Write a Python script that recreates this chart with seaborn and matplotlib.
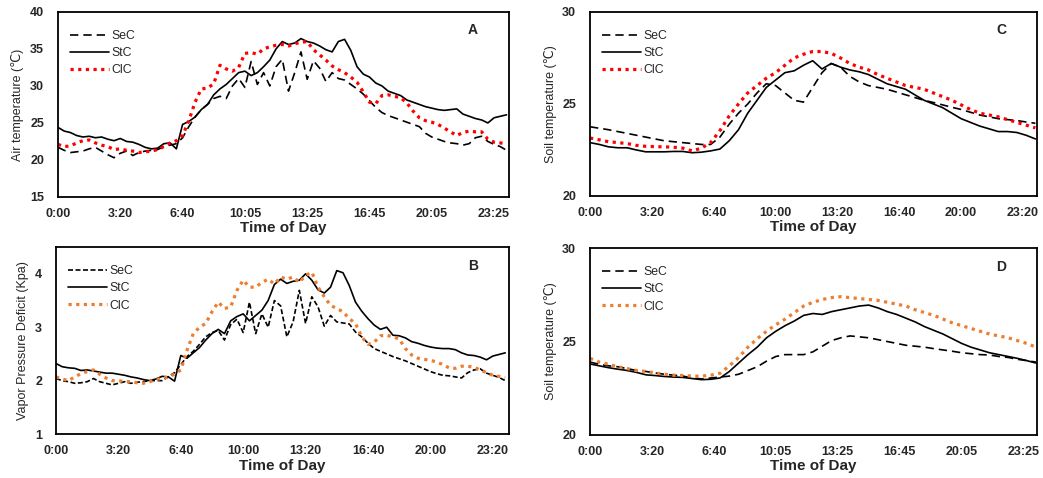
import matplotlib
matplotlib.use("Agg")
import matplotlib.pyplot as plt
import numpy as np
import pandas as pd
import seaborn as sns

# time grids (hours on the label scale)
T20 = np.arange(73) / 3.0          # 20-min steps, panels A and B
T30 = np.arange(49) / 2.0          # 30-min steps, panels C and D

TICK_POS = [0, 10 / 3, 20 / 3, 10, 40 / 3, 50 / 3, 20, 70 / 3]
TICKS_AD = ["0:00", "3:20", "6:40", "10:05", "13:25", "16:45", "20:05", "23:25"]
TICKS_BC = ["0:00", "3:20", "6:40", "10:00", "13:20", "16:40", "20:00", "23:20"]

# A: air temperature
air_sec = [21.7, 21.3, 21.0, 21.1, 21.2, 21.5, 21.7, 21.2, 20.7, 20.3, 20.9, 21.2, 20.6,
           21.0, 21.2, 21.3, 21.4, 21.8, 22.0, 22.2, 23.0, 24.5, 25.8, 26.8, 27.5, 28.3,
           28.6, 28.3, 30.0, 31.0, 29.8, 33.3, 30.2, 31.8, 30.0, 32.6, 33.6, 29.3, 31.8,
           34.6, 30.9, 33.4, 32.4, 30.6, 31.8, 31.0, 30.8, 30.2, 29.6, 28.9, 28.0, 27.1,
           26.4, 26.0, 25.7, 25.4, 25.1, 24.8, 24.5, 23.6, 23.1, 22.8, 22.5, 22.3, 22.2,
           22.0, 22.2, 23.0, 23.2, 22.5, 22.1, 21.8, 21.3]
air_stc = [24.4, 23.9, 23.7, 23.3, 23.1, 23.2, 23.0, 23.1, 22.8, 22.6, 22.9, 22.5, 22.4,
           22.1, 21.7, 21.5, 21.6, 22.2, 22.3, 21.5, 24.8, 25.2, 25.8, 26.8, 27.5, 28.8,
           29.6, 30.2, 31.0, 31.8, 32.0, 31.4, 31.8, 32.6, 33.5, 35.0, 36.0, 35.6, 35.8,
           36.4, 36.0, 35.8, 35.4, 34.9, 34.6, 36.0, 36.3, 34.8, 32.6, 31.6, 31.2, 30.4,
           30.0, 29.3, 29.0, 28.7, 28.1, 27.8, 27.5, 27.2, 27.0, 26.8, 26.7, 26.8, 26.9,
           26.2, 25.9, 25.6, 25.4, 25.0, 25.7, 25.9, 26.1]
air_clc = [22.1, 21.8, 21.9, 22.3, 22.6, 22.7, 22.3, 22.0, 21.8, 21.4, 21.5, 21.3, 21.2,
           21.0, 21.1, 21.2, 21.4, 21.8, 22.3, 22.6, 23.3, 25.3, 27.8, 29.6, 29.7, 30.3,
           32.8, 32.3, 32.0, 32.5, 34.4, 34.5, 34.3, 35.0, 35.3, 35.5, 35.6, 35.4, 35.7,
           35.9, 36.0, 34.9, 34.2, 33.5, 32.7, 32.2, 31.8, 31.2, 30.5, 29.2, 27.8, 27.6,
           28.7, 28.8, 28.6, 28.4, 27.7, 26.6, 25.7, 25.3, 25.1, 24.8, 24.3, 23.8, 23.3,
           23.7, 23.9, 23.8, 23.8, 22.8, 22.4, 22.3, 22.2]

# B: vapor pressure deficit
vpd_sec = [2.04, 2.0, 1.98, 1.95, 1.96, 1.98, 2.04, 1.98, 1.95, 1.92, 1.95, 1.98, 1.95,
           1.97, 1.98, 2.0, 2.0, 2.0, 2.07, 2.15, 2.3, 2.45, 2.55, 2.68, 2.82, 2.9, 2.94,
           2.76, 3.05, 3.15, 2.9, 3.47, 2.88, 3.25, 3.0, 3.5, 3.4, 2.82, 3.1, 3.69, 3.07,
           3.57, 3.38, 3.02, 3.22, 3.1, 3.08, 3.06, 2.91, 2.82, 2.7, 2.6, 2.55, 2.5, 2.45,
           2.41, 2.37, 2.32, 2.27, 2.22, 2.17, 2.13, 2.1, 2.09, 2.07, 2.05, 2.15, 2.2, 2.22,
           2.14, 2.1, 2.06, 2.0]
vpd_stc = [2.32, 2.26, 2.24, 2.23, 2.19, 2.2, 2.18, 2.16, 2.14, 2.14, 2.12, 2.1, 2.07,
           2.05, 2.02, 2.0, 2.03, 2.08, 2.07, 1.99, 2.47, 2.42, 2.52, 2.62, 2.76, 2.88,
           2.96, 2.88, 3.12, 3.2, 3.25, 3.12, 3.22, 3.32, 3.5, 3.8, 3.9, 3.82, 3.86, 3.88,
           4.0, 3.88, 3.7, 3.64, 3.75, 4.06, 4.02, 3.78, 3.47, 3.3, 3.16, 3.04, 2.96, 3.0,
           2.85, 2.84, 2.8, 2.73, 2.7, 2.66, 2.63, 2.61, 2.6, 2.6, 2.58, 2.52, 2.48, 2.47,
           2.44, 2.39, 2.46, 2.49, 2.52]
vpd_clc = [2.07, 2.03, 2.0, 2.07, 2.13, 2.17, 2.2, 2.12, 2.05, 2.0, 2.0, 1.98, 1.98,
           1.96, 1.95, 1.98, 2.02, 2.04, 2.07, 2.12, 2.2, 2.57, 2.88, 3.0, 3.07, 3.29,
           3.47, 3.35, 3.38, 3.69, 3.88, 3.75, 3.75, 3.84, 3.9, 3.81, 3.94, 3.9, 3.94,
           3.84, 3.97, 4.03, 3.75, 3.57, 3.41, 3.35, 3.29, 3.16, 3.07, 2.82, 2.68, 2.72,
           2.84, 2.85, 2.82, 2.78, 2.6, 2.48, 2.42, 2.4, 2.38, 2.35, 2.3, 2.24, 2.23, 2.27,
           2.27, 2.25, 2.2, 2.15, 2.1, 2.08, 2.06]

# C: soil temperature
soil_c_sec = [23.76, 23.68, 23.6, 23.5, 23.4, 23.3, 23.2, 23.1, 23.0, 22.95, 22.9, 22.85,
              22.8, 22.8, 23.2, 23.9, 24.5, 25.0, 25.6, 26.1, 26.0, 25.6, 25.2, 25.1, 25.9,
              26.7, 27.2, 27.0, 26.5, 26.2, 26.0, 25.9, 25.8, 25.65, 25.5, 25.35, 25.2,
              25.08, 24.95, 24.82, 24.7, 24.55, 24.4, 24.3, 24.2, 24.15, 24.1, 24.02, 23.95]
soil_c_stc = [22.9, 22.8, 22.67, 22.62, 22.62, 22.5, 22.4, 22.4, 22.4, 22.42, 22.42, 22.35,
              22.38, 22.45, 22.55, 23.0, 23.6, 24.5, 25.2, 25.9, 26.3, 26.7, 26.8, 27.1,
              27.35, 26.9, 27.2, 27.0, 26.85, 26.75, 26.6, 26.35, 26.1, 25.95, 25.8, 25.5,
              25.2, 25.0, 24.8, 24.5, 24.2, 24.0, 23.8, 23.65, 23.5, 23.5, 23.45, 23.3, 23.1]
soil_c_clc = [23.15, 23.05, 22.95, 22.9, 22.85, 22.75, 22.7, 22.68, 22.67, 22.65, 22.6,
              22.45, 22.6, 22.9, 23.55, 24.35, 25.0, 25.6, 26.0, 26.4, 26.7, 27.1, 27.5,
              27.7, 27.85, 27.85, 27.75, 27.5, 27.2, 27.0, 26.85, 26.6, 26.4, 26.2, 26.0,
              25.9, 25.8, 25.6, 25.4, 25.2, 24.95, 24.7, 24.5, 24.4, 24.3, 24.15, 24.0,
              23.85, 23.7]

# D: soil temperature
soil_d_sec = [23.9, 23.78, 23.7, 23.65, 23.55, 23.45, 23.4, 23.32, 23.25, 23.2, 23.15,
              23.05, 23.0, 23.05, 23.1, 23.15, 23.25, 23.45, 23.65, 23.95, 24.2, 24.3, 24.3,
              24.3, 24.45, 24.75, 25.05, 25.2, 25.3, 25.25, 25.2, 25.1, 25.0, 24.9, 24.8,
              24.75, 24.7, 24.62, 24.55, 24.48, 24.4, 24.35, 24.3, 24.28, 24.2, 24.15,
              24.05, 23.98, 23.9]
soil_d_stc = [23.8, 23.7, 23.6, 23.52, 23.45, 23.35, 23.22, 23.18, 23.13, 23.1, 23.08,
              23.02, 22.96, 22.98, 23.05, 23.4, 23.85, 24.3, 24.7, 25.2, 25.55, 25.85, 26.1,
              26.4, 26.5, 26.45, 26.6, 26.7, 26.8, 26.9, 26.95, 26.8, 26.6, 26.45, 26.25,
              26.05, 25.8, 25.6, 25.4, 25.15, 24.9, 24.7, 24.55, 24.4, 24.3, 24.2, 24.1,
              23.98, 23.85]
soil_d_clc = [24.1, 23.9, 23.78, 23.65, 23.55, 23.45, 23.4, 23.32, 23.25, 23.2, 23.18,
              23.15, 23.15, 23.2, 23.3, 23.7, 24.15, 24.7, 25.15, 25.55, 25.9, 26.2, 26.55,
              26.9, 27.1, 27.25, 27.35, 27.4, 27.35, 27.3, 27.25, 27.2, 27.1, 27.0, 26.9,
              26.7, 26.55, 26.4, 26.2, 26.0, 25.85, 25.7, 25.55, 25.4, 25.3, 25.2, 25.05,
              24.9, 24.7]

RED = "#FF0000"
ORANGE = "#ED7D31"
DOTS = (0, (1.0, 1.4))

sns.set_style("white")
plt.rcParams["font.family"] = ["Liberation Sans", "DejaVu Sans"]


def draw_panel(ax, t, sec, stc, clc, dot_color, dash, ticks, ylim, yticks, ylabel, letter,
               xmax):
    sns.lineplot(x=t, y=sec, ax=ax, color="black", lw=1.2, label="SeC")
    sns.lineplot(x=t, y=stc, ax=ax, color="black", lw=1.2, label="StC")
    sns.lineplot(x=t, y=clc, ax=ax, color=dot_color, lw=2.3, label="ClC")
    ax.lines[0].set_dashes(dash)
    ax.lines[2].set_linestyle(DOTS)
    ax.lines[2].set_dash_capstyle("butt")

    ax.set_xlim(0, xmax)
    ax.set_ylim(*ylim)
    ax.set_xticks(TICK_POS)
    ax.set_xticklabels(ticks, fontweight="bold", fontsize=9)
    ax.set_yticks(yticks)
    ax.set_yticklabels([str(v) for v in yticks], fontweight="bold", fontsize=9)
    ax.tick_params(axis="x", length=0, pad=8)
    ax.tick_params(axis="y", length=0, pad=10)
    ax.set_xlabel("Time of Day", fontweight="bold", fontsize=11, labelpad=1)
    ax.set_ylabel(ylabel, fontsize=9, labelpad=4)
    for s in ax.spines.values():
        s.set_color("black")
        s.set_linewidth(1.3)

    leg = ax.legend(loc="upper left", bbox_to_anchor=(0.005, 0.955), frameon=False,
                    fontsize=8.8, handlelength=3.2, handletextpad=0.15,
                    labelspacing=0.42, borderaxespad=0.4)
    leg.get_lines()[0].set_dashes(dash)
    leg.get_lines()[2].set_linestyle(DOTS)
    leg.get_lines()[2].set_dash_capstyle("butt")
    ax.text(0.92, 0.9, letter, transform=ax.transAxes, fontweight="bold", fontsize=10,
            ha="center", va="center")


fig = plt.figure(figsize=(10.43, 4.78), dpi=100)
ax_a = fig.add_axes([0.0556, 0.588, 0.4324, 0.387])
ax_b = fig.add_axes([0.0537, 0.092, 0.4343, 0.391])
ax_c = fig.add_axes([0.5657, 0.590, 0.4286, 0.385])
ax_d = fig.add_axes([0.5657, 0.090, 0.4286, 0.391])

draw_panel(ax_a, T20, air_sec, air_stc, air_clc, RED, (5, 3), TICKS_AD, (15, 40),
           [15, 20, 25, 30, 35, 40], "Air temperature (℃)", "A", 24.13)
draw_panel(ax_b, T20, vpd_sec, vpd_stc, vpd_clc, ORANGE, (3, 1.5), TICKS_BC, (1, 4.5),
           [1, 2, 3, 4], "Vapor Pressure Deficit (Kpa)", "B", 24.2)
draw_panel(ax_c, T30, soil_c_sec, soil_c_stc, soil_c_clc, RED, (5, 3), TICKS_BC, (20, 30),
           [20, 25, 30], "Soil temperature (℃)", "C", 24.09)
draw_panel(ax_d, T30, soil_d_sec, soil_d_stc, soil_d_clc, ORANGE, (5, 3), TICKS_AD,
           (20, 30), [20, 25, 30], "Soil temperature (℃)", "D", 24.06)

fig.savefig("out.png", dpi=100)
